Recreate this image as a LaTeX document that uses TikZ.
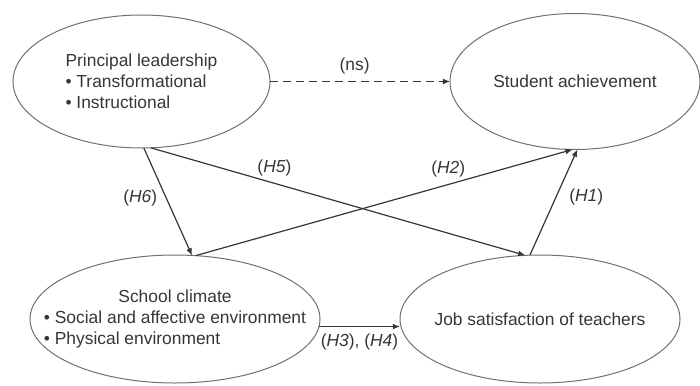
\documentclass[tikz,border=0pt]{standalone}
\usepackage{fontspec}
\setmainfont{Liberation Sans}
\usetikzlibrary{arrows.meta,shapes.geometric}
\definecolor{tinta}{HTML}{363636}
\definecolor{borde}{HTML}{707070}
\newcommand{\modelfont}{\fontsize{8.7}{10.5}\selectfont}
\tikzset{
  construct/.style={draw=borde,line width=0.5pt,ellipse,inner xsep=-20pt,inner ysep=0pt,
    outer sep=0pt,text=tinta,font=\modelfont},
  arrow/.style={-{Latex[length=3.6pt,width=3pt]},line width=0.6pt,draw=tinta},
  edgeword/.style={font=\modelfont,text=tinta}
}
\begin{document}
\begin{tikzpicture}[x=0.5pt,y=-0.5pt]
\useasboundingbox (0,0) rectangle (700,385);
\node[construct,minimum width=128.5pt,minimum height=66.5pt,align=left] (lead) at (141.5,81.5)
  {Principal leadership\\\textbullet\ Transformational\\\textbullet\ Instructional};
\node[construct,minimum width=125pt,minimum height=68pt] (ach) at (575,81.5) {Student achievement};
\node[construct,minimum width=145pt,minimum height=64pt] (clim) at (175,319)
  {\begin{tabular}{@{}l@{}}\multicolumn{1}{@{}c@{}}{School climate}\\
   \textbullet\ Social and affective environment\\\textbullet\ Physical environment\end{tabular}};
\node[construct,minimum width=140pt,minimum height=64pt] (sat) at (540,319) {Job satisfaction of teachers};
\draw[arrow,dash pattern=on 4pt off 2.5pt] (lead.east)--node[edgeword,above,pos=.47]{(ns)}(ach.west);
\draw[arrow] (lead.-88)--node[edgeword,left=1pt,pos=.47]{(\textit{H6})}(clim.75);
\draw[arrow] (lead.-82)--node[edgeword,above,pos=.33]{(\textit{H5})}(sat.103);
\draw[arrow] (clim.72)--node[edgeword,above,pos=.67]{(\textit{H2})}(ach.-92);
\draw[arrow] (sat.99)--node[edgeword,right=3pt,pos=.55]{(\textit{H1})}(ach.-88);
\draw[arrow] (clim.-3)--node[edgeword,below]{(\textit{H3}), (\textit{H4})}(clim.-3 -| sat.west);
\end{tikzpicture}
\end{document}
